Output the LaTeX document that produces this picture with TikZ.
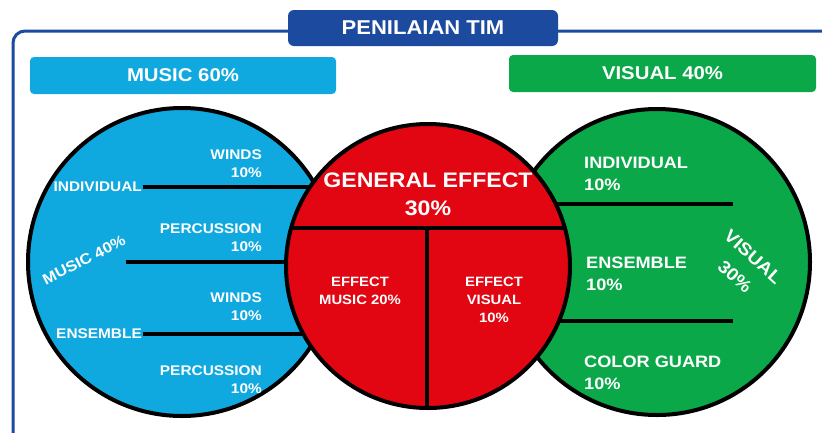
\documentclass[tikz,border=0pt]{standalone}
\usepackage{fontspec}
\setmainfont[FakeStretch=1.1]{Liberation Sans}
\definecolor{musicblue}{HTML}{0FA9E0}
\definecolor{visualgreen}{HTML}{0BA84A}
\definecolor{effectred}{HTML}{E20613}
\definecolor{titleblue}{HTML}{1B4A9E}

\begin{document}
\begin{tikzpicture}[x = 1pt,
    y = -1pt,
    text = white,
    font = \bfseries]
    % styles
    \tikzset{ringstyle/.style={draw=black,line width=4pt},
      barstyle/.style={draw=black,line width=4.5pt},
      headstyle/.style={rounded corners=4pt,inner sep=0pt,minimum height=37pt},
      smalltext/.style={inner sep=0pt,font=\bfseries\fontsize{14}{18}\selectfont},
      greentext/.style={inner sep=0pt,align=left,anchor=west,font=\bfseries\fontsize{16.5}{22}\selectfont},
      redtext/.style={inner sep=0pt,align=center,font=\bfseries\fontsize{13.5}{18}\selectfont}}
    \useasboundingbox (0,0) rectangle (822,432);
    \clip (0,0) rectangle (822,432);
    % frame
    \draw[titleblue,line width=3pt,rounded corners=12pt] (13,31) rectangle (860,480);
    % title
    \node[fill=titleblue,rounded corners=6pt,inner sep=0pt,minimum width=270pt,minimum height=36pt,
      font=\bfseries\fontsize{20}{24}\selectfont] (title) at (423,28) {PENILAIAN TIM};
    % headers
    \node[headstyle,fill=musicblue,minimum width=306pt,font=\bfseries\fontsize{18.5}{22}\selectfont]
      (musichead) at (183,75.5) {MUSIC 60\%};
    \node[headstyle,fill=visualgreen,minimum width=307pt,font=\bfseries\fontsize{18.5}{22}\selectfont]
      (visualhead) at (662.5,73.5) {VISUAL 40\%};
    % circle "music"
    \path[ringstyle,fill=musicblue] (182,262) circle[radius=154pt];
    % circle "visual"
    \path[ringstyle,fill=visualgreen] (657,262) circle[radius=153pt];
    % music labels
    \node[smalltext,anchor=east,inner sep=1pt] (mindiv) at (143,187) {INDIVIDUAL};
    \node[smalltext,anchor=east,inner sep=1pt] (mens) at (143,334) {ENSEMBLE};
    \coordinate (mmid) at (126,262);
    \node[smalltext,align=right,anchor=east] (winds1) at (262,164) {WINDS\\10\%};
    \node[smalltext,align=right,anchor=east] (perc1) at (262,238) {PERCUSSION\\10\%};
    \node[smalltext,align=right,anchor=east] (winds2) at (262,307) {WINDS\\10\%};
    \node[smalltext,align=right,anchor=east] (perc2) at (262,380) {PERCUSSION\\10\%};
    \node[smalltext,rotate=27,font=\bfseries\fontsize{15}{18}\selectfont] (music40) at (84,260) {MUSIC 40\%};
    % music bars
    \draw[barstyle] (mindiv.east) -- ++(260,0);
    \draw[barstyle] (mmid) -- ++(260,0);
    \draw[barstyle] (mens.east) -- ++(260,0);
    % visual labels
    \node[greentext] (vindiv) at (584,174) {INDIVIDUAL\\10\%};
    \node[greentext] (vens) at (586,274) {ENSEMBLE\\10\%};
    \node[greentext] (vcolor) at (584,373) {COLOR GUARD\\10\%};
    \node[inner sep=0pt,align=center,rotate=-42,font=\bfseries\fontsize{17.5}{27}\selectfont]
      (visual30) at (744,267) {VISUAL\\30\%};
    % visual bars
    \coordinate (vbar1) at (733,204);
    \coordinate (vbar2) at (733,321);
    \draw[barstyle] (vbar1) -- ++(-280,0);
    \draw[barstyle] (vbar2) -- ++(-280,0);
    % circle "general effect"
    \fill[effectred] (428,266) circle[radius=142pt];
    \begin{scope}
      \clip (428,266) circle[radius=142pt];
      \draw[barstyle] (280,228) -- (580,228);
      \draw[barstyle] (427,228) -- (427,420);
    \end{scope}
    \draw[ringstyle] (428,266) circle[radius=142pt];
    % effect labels
    \node[inner sep=0pt,align=center,font=\bfseries\fontsize{21}{28}\selectfont]
      (general) at (428,194) {GENERAL EFFECT\\30\%};
    \node[redtext] (effmusic) at (360,291) {EFFECT\\MUSIC 20\%};
    \node[redtext] (effvisual) at (494,300) {EFFECT\\VISUAL\\10\%};
  \end{tikzpicture}
\end{document}
